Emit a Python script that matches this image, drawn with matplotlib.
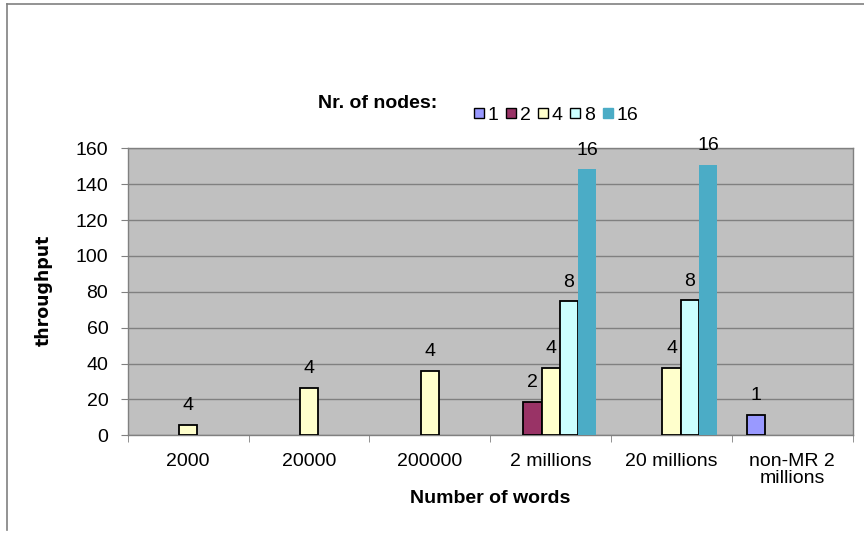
import numpy as np
import matplotlib
matplotlib.use("Agg")
import matplotlib.pyplot as plt
from matplotlib.lines import Line2D

plt.rcParams['font.family'] = ['Liberation Sans', 'DejaVu Sans']

# data
categories = ['2000', '20000', '200000', '2 millions', '20 millions', 'non-MR 2\nmillions']
nodes = ['1', '2', '4', '8', '16']
throughput = {
    '1':  [None, None, None, None, None, 11.3],
    '2':  [None, None, None, 18.7, None, None],
    '4':  [5.7, 26.5, 35.8, 37.5, 37.7, None],
    '8':  [None, None, None, 74.6, 75.2, None],
    '16': [None, None, None, 148.3, 150.7, None],
}
colors = {'1': '#9999ff', '2': '#993366', '4': '#ffffcc', '8': '#ccffff', '16': '#4bacc6'}
edges = {'1': 'black', '2': 'black', '4': 'black', '8': 'black', '16': 'none'}

fs = 14

fig = plt.figure(figsize=(8.64, 5.35), dpi=100)
ax = fig.add_axes([0.1478, 0.1864, 0.987 - 0.1478, 0.7228 - 0.1864])
ax.set_facecolor('#c0c0c0')

x = np.arange(len(categories))
w = 0.151
for i, n in enumerate(nodes):
    off = (i - 2) * w
    for j, v in enumerate(throughput[n]):
        if v is None:
            continue
        ax.bar(x[j] + off, v, width=w, color=colors[n], edgecolor=edges[n],
               linewidth=1.3, zorder=3)
        ax.text(x[j] + off, v + 6, n, ha='center', va='bottom', fontsize=fs, zorder=4)

ax.set_xlim(-0.5, len(categories) - 0.5)
ax.set_ylim(0, 160)
ax.set_yticks(range(0, 161, 20))
ax.yaxis.grid(True, color='#808080', linewidth=1, zorder=1)
ax.set_axisbelow(True)

ax.set_xticks(x)
ax.set_xticklabels(categories, fontsize=fs, linespacing=1.0)
ax.set_xticks(np.arange(-0.5, len(categories), 1), minor=True)
ax.tick_params(axis='x', which='major', length=0, pad=13)
ax.tick_params(axis='x', which='minor', length=5, color='#808080')
ax.tick_params(axis='y', length=5, color='#808080', labelsize=fs, pad=9)
for s in ax.spines.values():
    s.set_color('#808080')
    s.set_linewidth(1)

fig.text(44 / 864, 1 - 290 / 535, 'throughput', fontsize=12.5, fontweight='bold',
         family='DejaVu Sans', rotation=90, ha='center', va='center')
ax.set_xlabel('Number of words', fontsize=fs, fontweight='bold', labelpad=2)

# legend
fig.text(318 / 864, 1 - 104 / 535, 'Nr. of nodes:', fontsize=fs, fontweight='bold',
         ha='left', va='center')
handles = [Line2D([], [], linestyle='none', marker='s', markersize=7,
                  markerfacecolor=colors[n],
                  markeredgecolor='black' if edges[n] != 'none' else colors[n],
                  markeredgewidth=1) for n in nodes]
fig.legend(handles, nodes, loc='center left', bbox_to_anchor=(462 / 864, 1 - 115 / 535),
           ncol=5, frameon=False, fontsize=fs, handlelength=0.7, handletextpad=0.1,
           columnspacing=0.3, borderpad=0)

# outer frame lines (top and left)
fig.add_artist(Line2D([7 / 864, 1], [1 - 4 / 535, 1 - 4 / 535], color='#808080', linewidth=1.2))
fig.add_artist(Line2D([7 / 864, 7 / 864], [1 - 4 / 535, 1 - 530 / 535], color='#808080', linewidth=1.2))

fig.savefig('out.png', dpi=100)
